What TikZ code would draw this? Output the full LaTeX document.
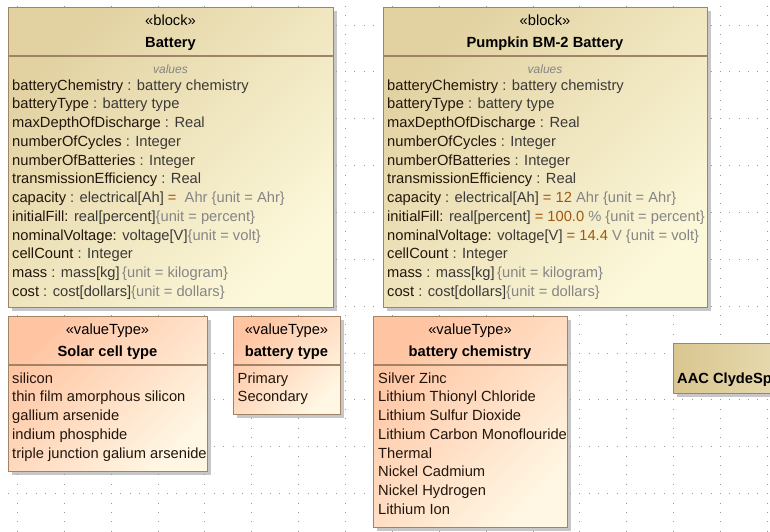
\documentclass[tikz,border=0pt]{standalone}
\usepackage{fontspec}
\setmainfont{Liberation Sans}
\usetikzlibrary{shadows}
\definecolor{namecol}{HTML}{22160C}
\definecolor{typecol}{HTML}{3C3A38}
\definecolor{unitcol}{HTML}{858585}
\definecolor{valcol}{HTML}{A0580F}
\definecolor{bordercol}{HTML}{A08468}
\definecolor{blkA}{HTML}{E2D2A2}
\definecolor{blkB}{HTML}{FCF8DA}
\definecolor{vtA}{HTML}{FFC4A2}
\definecolor{vtB}{HTML}{FFF7E4}
\definecolor{aacA}{HTML}{D9C690}
\definecolor{aacB}{HTML}{EEE4C0}
\definecolor{gridcol}{HTML}{9A9A9A}
\newcommand\tyc[1]{\textcolor{typecol}{#1}}
\newcommand\unc[1]{\textcolor{unitcol}{#1}}
\newcommand\vac[1]{\textcolor{valcol}{#1}}
\begin{document}
\begin{tikzpicture}[x=1pt,y=-1pt,
  font=\fontsize{14.7}{17}\selectfont,
  griddot/.style={draw=gridcol, line width=0.9pt, dash pattern=on 0.9pt off 8.472pt},
  boxshadow/.style={drop shadow={shadow xshift=3pt, shadow yshift=-3pt, fill=black!40, opacity=0.55}},
  blk/.style={draw=bordercol, line width=1.1pt, inner sep=0pt, anchor=north west, boxshadow,
    top color=blkA, bottom color=blkB, shading angle=45},
  vt/.style={draw=bordercol, line width=1.1pt, inner sep=0pt, anchor=north west, boxshadow,
    top color=vtA, bottom color=vtB, shading angle=45},
  aac/.style={draw=bordercol, line width=1.1pt, inner sep=0pt, anchor=north west, boxshadow,
    left color=aacA, right color=aacB},
  sepline/.style={draw=bordercol, line width=1.1pt},
  txt/.style={anchor=base west, inner sep=0pt, text=namecol},
  stereo/.style={anchor=base, inner sep=0pt, text=black},
  title/.style={anchor=base, inner sep=0pt, text=black, font=\fontsize{14.7}{17}\selectfont\bfseries},
  valueslbl/.style={anchor=base, inner sep=0pt, text=unitcol, font=\fontsize{12}{13}\selectfont\itshape}]
\useasboundingbox (0,0) rectangle (770,531);
\clip (0,0) rectangle (770,531);
% grid
\foreach \i in {0,...,16}
  \draw[griddot, dash phase=3.56pt] (17.5+46.86*\i,0) -- (17.5+46.86*\i,531);
\foreach \j in {0,...,11}
  \draw[griddot, dash phase=1.69pt] (0,25+46.86*\j) -- (770,25+46.86*\j);

% ---------- Battery block ----------
\node[blk, minimum width=325pt, minimum height=300pt] (battery) at (8,7) {};
\draw[sepline] ([yshift=-49pt]battery.north west) -- ([yshift=-49pt]battery.north east);
\node[stereo] (bst) at (170.5,25) {«block»};
\node[title] (bname) at (170.5,47) {Battery};
\node[valueslbl] (bval) at (170.5,73) {values};
\node[txt] (b1) at (12,90) {batteryChemistry \tyc{: battery chemistry}};
\node[txt] (b2) at (12,108.75) {batteryType \tyc{: battery type}};
\node[txt] (b3) at (12,127.5) {maxDepthOfDischarge \tyc{: Real}};
\node[txt] (b4) at (12,146.25) {numberOfCycles \tyc{: Integer}};
\node[txt] (b5) at (12,165) {numberOfBatteries \tyc{: Integer}};
\node[txt] (b6) at (12,183.75) {transmissionEfficiency \tyc{: Real}};
\node[txt] (b7) at (12,202.5) {capacity \tyc{: electrical[Ah]} \vac{=}\ \ \unc{Ahr \{unit = Ahr\}}};
\node[txt] (b8) at (12,221.25) {initialFill: \tyc{real[percent]}\unc{\{unit = percent\}}};
\node[txt] (b9) at (12,240) {nominalVoltage: \tyc{voltage[V]}\unc{\{unit = volt\}}};
\node[txt] (b10) at (12,258.75) {cellCount \tyc{: Integer}};
\node[txt] (b11) at (12,277.5) {mass \tyc{: mass[kg]}\,\unc{\{unit = kilogram\}}};
\node[txt] (b12) at (12,296.25) {cost \tyc{: cost[dollars]}\unc{\{unit = dollars\}}};

% ---------- Pumpkin block ----------
\node[blk, minimum width=324pt, minimum height=300pt] (pumpkin) at (383,7) {};
\draw[sepline] ([yshift=-49pt]pumpkin.north west) -- ([yshift=-49pt]pumpkin.north east);
\node[stereo] (pst) at (545,25) {«block»};
\node[title] (pname) at (545,47) {Pumpkin BM-2 Battery};
\node[valueslbl] (pval) at (545,73) {values};
\node[txt] (p1) at (387,90) {batteryChemistry \tyc{: battery chemistry}};
\node[txt] (p2) at (387,108.75) {batteryType \tyc{: battery type}};
\node[txt] (p3) at (387,127.5) {maxDepthOfDischarge \tyc{: Real}};
\node[txt] (p4) at (387,146.25) {numberOfCycles \tyc{: Integer}};
\node[txt] (p5) at (387,165) {numberOfBatteries \tyc{: Integer}};
\node[txt] (p6) at (387,183.75) {transmissionEfficiency \tyc{: Real}};
\node[txt] (p7) at (387,202.5) {capacity \tyc{: electrical[Ah]} \vac{= 12} \unc{Ahr \{unit = Ahr\}}};
\node[txt] (p8) at (387,221.25) {initialFill: \tyc{real[percent]} \vac{= 100.0} \unc{\% \{unit = percent\}}};
\node[txt] (p9) at (387,240) {nominalVoltage: \tyc{voltage[V]} \vac{= 14.4} \unc{V \{unit = volt\}}};
\node[txt] (p10) at (387,258.75) {cellCount \tyc{: Integer}};
\node[txt] (p11) at (387,277.5) {mass \tyc{: mass[kg]}\,\unc{\{unit = kilogram\}}};
\node[txt] (p12) at (387,296.25) {cost \tyc{: cost[dollars]}\unc{\{unit = dollars\}}};

% ---------- Solar cell type ----------
\node[vt, minimum width=199pt, minimum height=155pt] (solar) at (8,316) {};
\draw[sepline] ([yshift=-49pt]solar.north west) -- ([yshift=-49pt]solar.north east);
\node[stereo] (sst) at (107.5,334) {«valueType»};
\node[title] (sname) at (107.5,356) {Solar cell type};
\node[txt] (s1) at (12,383) {silicon};
\node[txt] (s2) at (12,401.75) {thin film amorphous silicon};
\node[txt] (s3) at (12,420.5) {gallium arsenide};
\node[txt] (s4) at (12,439.25) {indium phosphide};
\node[txt] (s5) at (12,458) {triple junction galium arsenide};

% ---------- battery type ----------
\node[vt, minimum width=107pt, minimum height=98pt] (btype) at (233,316) {};
\draw[sepline] ([yshift=-49pt]btype.north west) -- ([yshift=-49pt]btype.north east);
\node[stereo] (tst) at (286.5,334) {«valueType»};
\node[title] (tname) at (286.5,356) {battery type};
\node[txt] (t1) at (237.5,383) {Primary};
\node[txt] (t2) at (237.5,401.75) {Secondary};

% ---------- battery chemistry ----------
\node[vt, minimum width=194pt, minimum height=211pt] (bchem) at (373,316) {};
\draw[sepline] ([yshift=-49pt]bchem.north west) -- ([yshift=-49pt]bchem.north east);
\node[stereo] (cst) at (470,334) {«valueType»};
\node[title] (cname) at (470,356) {battery chemistry};
\node[txt] (c1) at (378,383) {Silver Zinc};
\node[txt] (c2) at (378,401.75) {Lithium Thionyl Chloride};
\node[txt] (c3) at (378,420.5) {Lithium Sulfur Dioxide};
\node[txt] (c4) at (378,439.25) {Lithium Carbon Monoflouride};
\node[txt] (c5) at (378,458) {Thermal};
\node[txt] (c6) at (378,476.75) {Nickel Cadmium};
\node[txt] (c7) at (378,495.5) {Nickel Hydrogen};
\node[txt] (c8) at (378,514.25) {Lithium Ion};

% ---------- AAC ClydeSp (cut off) ----------
\node[aac, minimum width=160pt, minimum height=50pt] (aacbox) at (673,343) {};
\node[title, anchor=base west] (aacname) at (677,383) {AAC ClydeSp};
\end{tikzpicture}
\end{document}
